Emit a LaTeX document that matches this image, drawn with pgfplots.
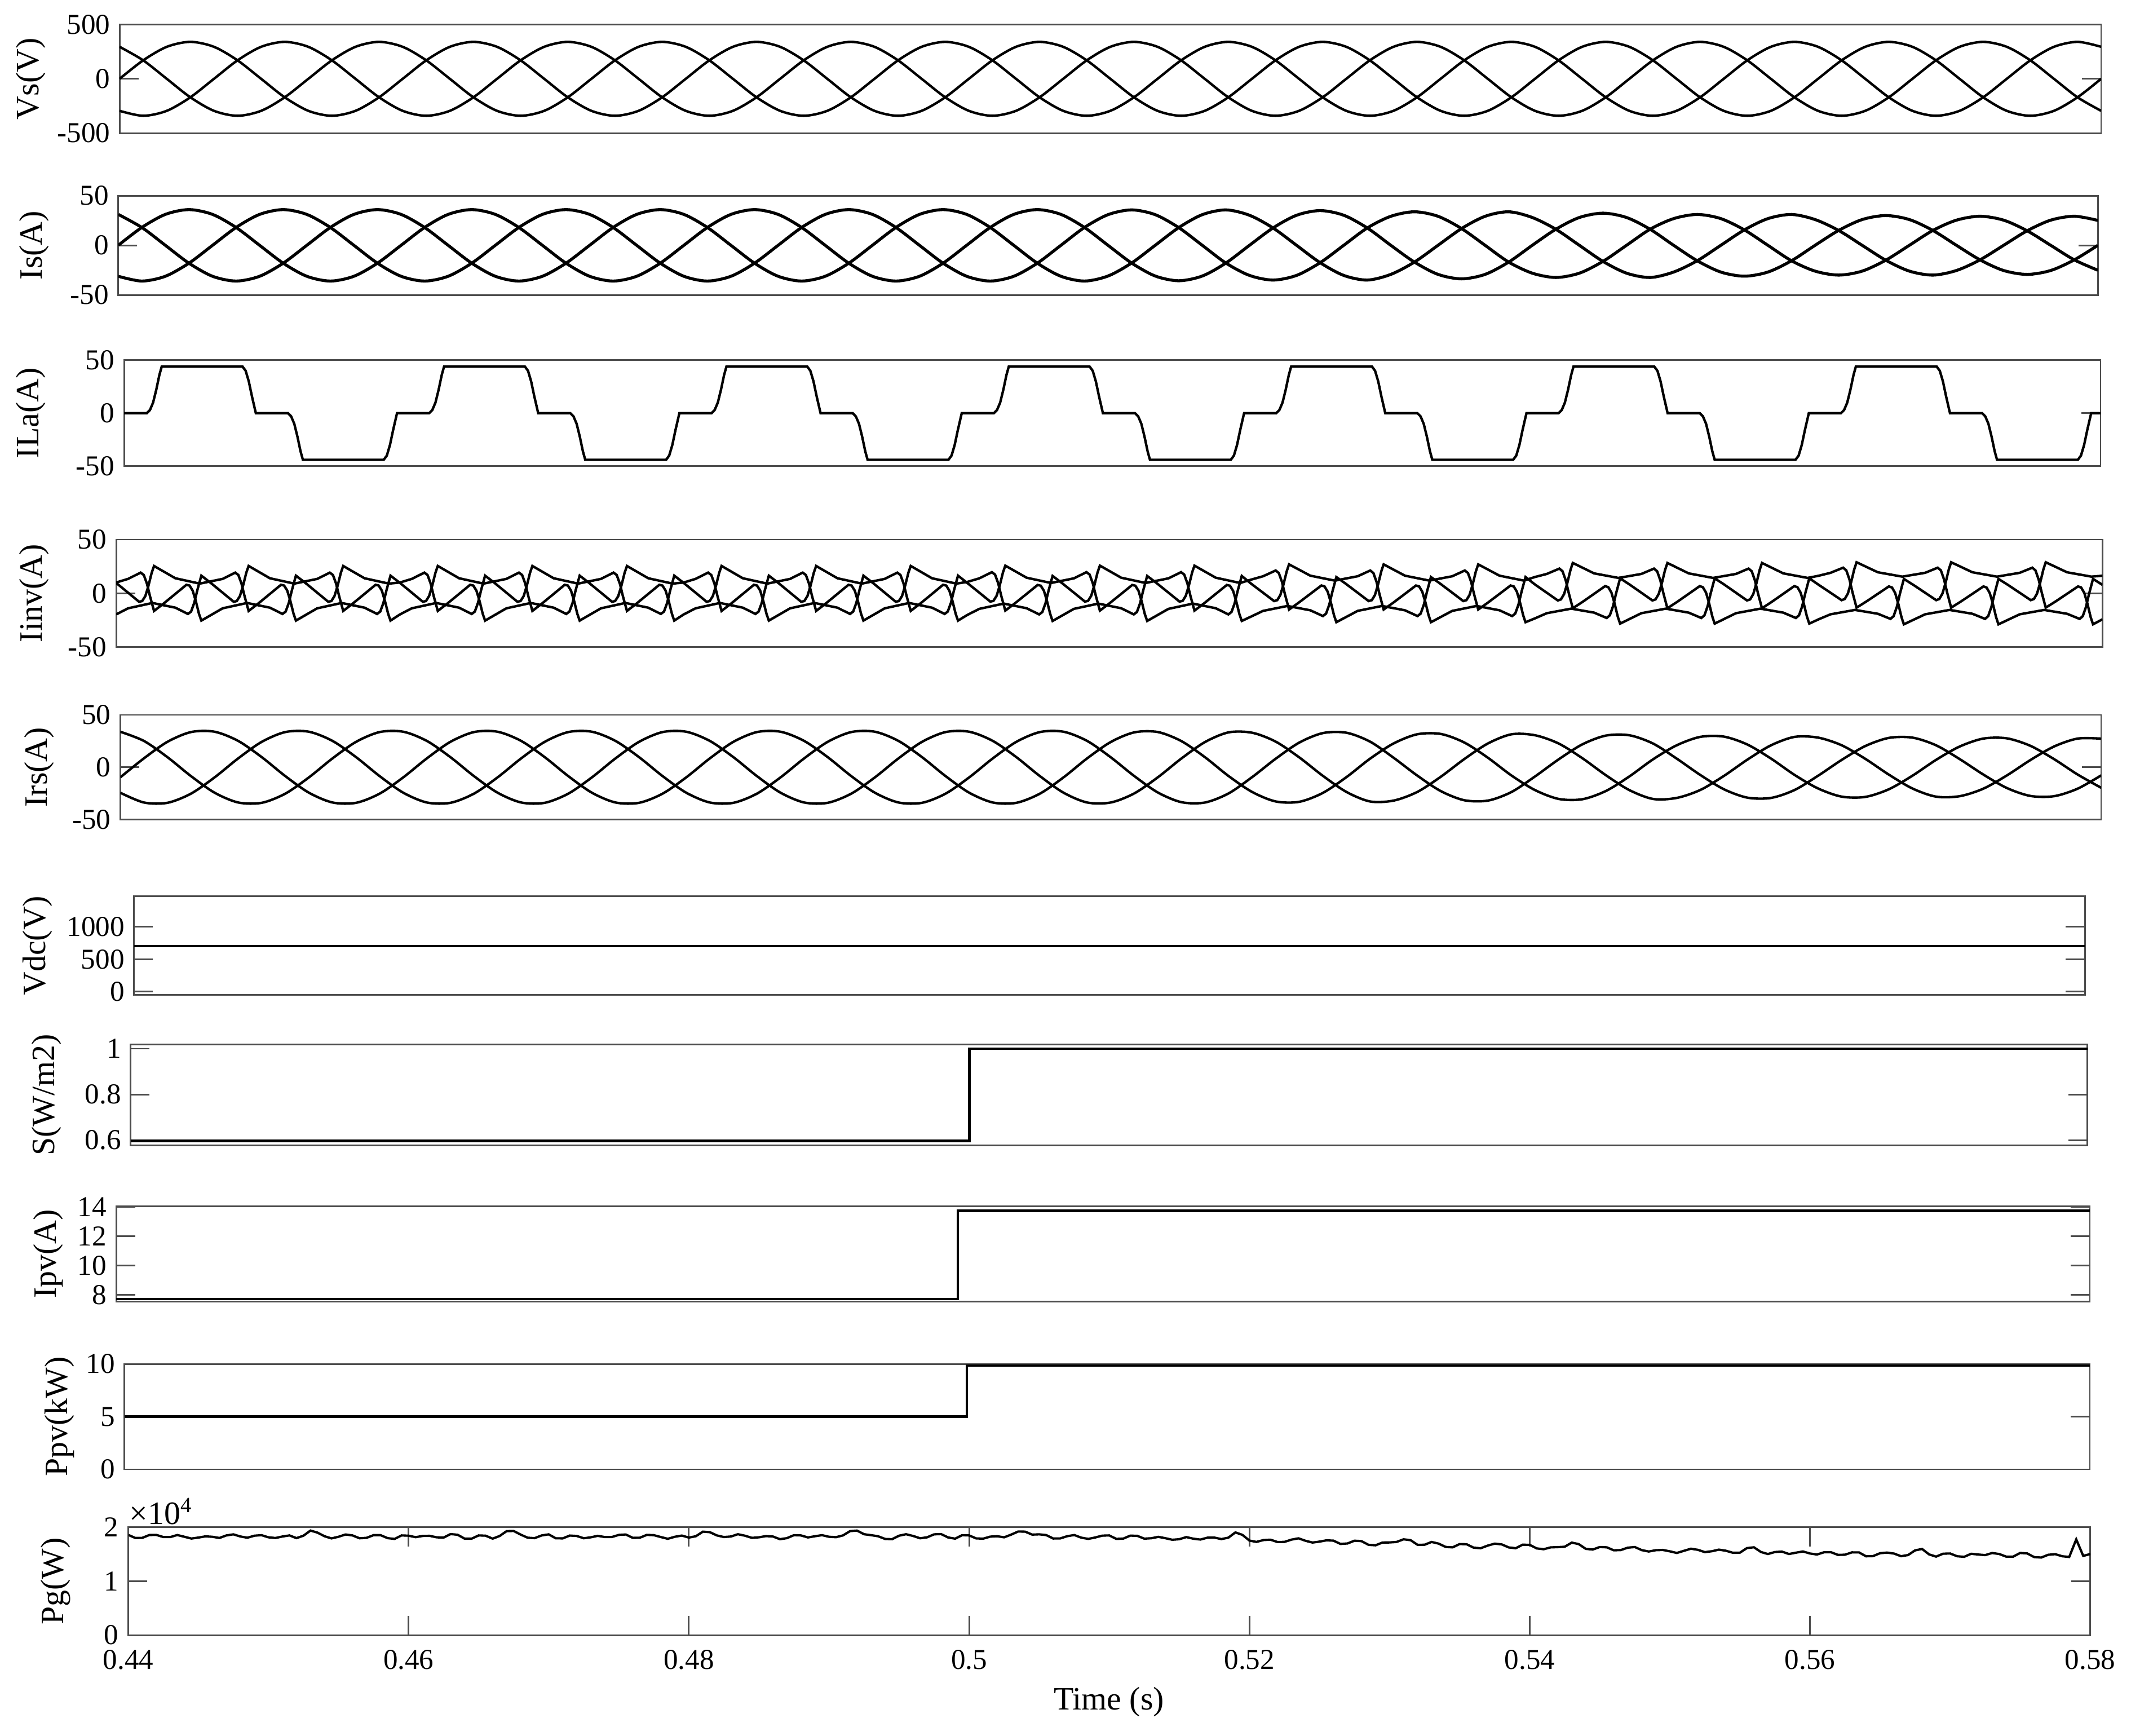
\documentclass[border=0pt]{standalone}
\usepackage{fontspec}
\setmainfont{Liberation Serif}
\usepackage{pgfplots}
\usepackage{pgfplotstable}
\pgfplotsset{compat=1.18}

\pgfplotsset{
 panel/.style={
  scale only axis, anchor=south west,
  axis line style={black!70,line width=0.6pt},
  tick style={black!70,line width=0.6pt},
  major tick length=7pt,
  tick align=inside,
  xtick=\empty,
  ytick pos=both, yticklabel pos=left,
  tick label style={font=\fontsize{10.6}{12}\selectfont},
  /pgf/number format/assume math mode=true,
  /pgf/number format/1000 sep={},
  cycle list={{black,mark=none,line width=0.9pt}},
  every axis plot/.append style={black,line width=0.9pt,mark=none},
 },
 deg/.style={xmin=0,xmax=2520},
 tim/.style={xmin=0.44,xmax=0.58},
}

% electrical angle (deg, 0 = t 0.44 s, 50 Hz) ; three phases a b c
\pgfplotstableread{
x a b c
0 0 294.4 -294.4
30 170 170 -340
60 294.4 0 -294.4
90 340 -170 -170
120 294.4 -294.4 0
150 170 -340 170
180 0 -294.4 294.4
210 -170 -170 340
240 -294.4 0 294.4
270 -340 170 170
300 -294.4 294.4 0
330 -170 340 -170
360 0 294.4 -294.4
390 170 170 -340
420 294.4 0 -294.4
450 340 -170 -170
480 294.4 -294.4 0
510 170 -340 170
540 0 -294.4 294.4
570 -170 -170 340
600 -294.4 0 294.4
630 -340 170 170
660 -294.4 294.4 0
690 -170 340 -170
720 0 294.4 -294.4
750 170 170 -340
780 294.4 0 -294.4
810 340 -170 -170
840 294.4 -294.4 0
870 170 -340 170
900 0 -294.4 294.4
930 -170 -170 340
960 -294.4 0 294.4
990 -340 170 170
1020 -294.4 294.4 0
1050 -170 340 -170
1080 0 294.4 -294.4
1110 170 170 -340
1140 294.4 0 -294.4
1170 340 -170 -170
1200 294.4 -294.4 0
1230 170 -340 170
1260 0 -294.4 294.4
1290 -170 -170 340
1320 -294.4 0 294.4
1350 -340 170 170
1380 -294.4 294.4 0
1410 -170 340 -170
1440 0 294.4 -294.4
1470 170 170 -340
1500 294.4 0 -294.4
1530 340 -170 -170
1560 294.4 -294.4 0
1590 170 -340 170
1620 0 -294.4 294.4
1650 -170 -170 340
1680 -294.4 0 294.4
1710 -340 170 170
1740 -294.4 294.4 0
1770 -170 340 -170
1800 0 294.4 -294.4
1830 170 170 -340
1860 294.4 0 -294.4
1890 340 -170 -170
1920 294.4 -294.4 0
1950 170 -340 170
1980 0 -294.4 294.4
2010 -170 -170 340
2040 -294.4 0 294.4
2070 -340 170 170
2100 -294.4 294.4 0
2130 -170 340 -170
2160 0 294.4 -294.4
2190 170 170 -340
2220 294.4 0 -294.4
2250 340 -170 -170
2280 294.4 -294.4 0
2310 170 -340 170
2340 0 -294.4 294.4
2370 -170 -170 340
2400 -294.4 0 294.4
2430 -340 170 170
2460 -294.4 294.4 0
2490 -170 340 -170
2520 0 294.4 -294.4
}\vstab

\pgfplotstableread{
x a b c
0 0 31.18 -31.18
30 18 18 -36
60 31.18 0 -31.18
90 36 -18 -18
120 31.18 -31.18 0
150 18 -36 18
180 0 -31.18 31.18
210 -18 -18 36
240 -31.18 0 31.18
270 -36 18 18
300 -31.18 31.18 0
330 -18 36 -18
360 0 31.18 -31.18
390 18 18 -36
420 31.18 0 -31.18
450 36 -18 -18
480 31.18 -31.18 0
510 18 -36 18
540 0 -31.18 31.18
570 -18 -18 36
600 -31.18 0 31.18
630 -36 18 18
660 -31.18 31.18 0
690 -18 36 -18
720 0 31.18 -31.18
750 18 18 -36
780 31.18 0 -31.18
810 36 -18 -18
840 31.18 -31.18 0
870 18 -36 18
900 0 -31.18 31.18
930 -18 -18 36
960 -31.18 0 31.18
990 -36 18 18
1020 -31.18 31.18 0
1050 -18 36 -18
1080 0 31.18 -31.18
1110 18 18 -36
1140 31.18 0 -31.18
1170 36 -18 -18
1200 31.18 -31.18 0
1230 18 -36 18
1260 0 -30.92 30.92
1290 -17.85 -17.85 35.7
1320 -30.92 0 30.92
1350 -35.7 17.85 17.85
1380 -30.92 30.92 0
1410 -17.85 35.7 -17.85
1440 0 30.31 -30.31
1470 17.5 17.5 -35
1500 30.31 0 -30.31
1530 35 -17.5 -17.5
1560 30.31 -30.31 0
1590 17.5 -35 17.5
1620 0 -29.27 29.27
1650 -16.9 -16.9 33.8
1680 -29.27 0 29.27
1710 -33.8 16.9 16.9
1740 -29.27 29.27 0
1770 -16.9 33.8 -16.9
1800 0 28.06 -28.06
1830 16.2 16.2 -32.4
1860 28.06 0 -28.06
1890 32.4 -16.2 -16.2
1920 28.06 -28.06 0
1950 16.2 -32.4 16.2
1980 0 -26.93 26.93
2010 -15.55 -15.55 31.1
2040 -26.93 0 26.93
2070 -31.1 15.55 15.55
2100 -26.93 26.93 0
2130 -15.55 31.1 -15.55
2160 0 25.98 -25.98
2190 15 15 -30
2220 25.98 0 -25.98
2250 30 -15 -15
2280 25.98 -25.98 0
2310 15 -30 15
2340 0 -25.37 25.37
2370 -14.65 -14.65 29.3
2400 -25.37 0 25.37
2430 -29.3 14.65 14.65
2460 -25.37 25.37 0
2490 -14.65 29.3 -14.65
2520 0 25.11 -25.11
}\istab

\pgfplotstableread{
x a b c
0 -9.65 33.96 -24.31
30 8.47 25.18 -33.65
60 24.31 9.65 -33.96
90 33.65 -8.47 -25.18
120 33.96 -24.31 -9.65
150 25.18 -33.65 8.47
180 9.65 -33.96 24.31
210 -8.47 -25.18 33.65
240 -24.31 -9.65 33.96
270 -33.65 8.47 25.18
300 -33.96 24.31 9.65
330 -25.18 33.65 -8.47
360 -9.65 33.96 -24.31
390 8.47 25.18 -33.65
420 24.31 9.65 -33.96
450 33.65 -8.47 -25.18
480 33.96 -24.31 -9.65
510 25.18 -33.65 8.47
540 9.65 -33.96 24.31
570 -8.47 -25.18 33.65
600 -24.31 -9.65 33.96
630 -33.65 8.47 25.18
660 -33.96 24.31 9.65
690 -25.18 33.65 -8.47
720 -9.65 33.96 -24.31
750 8.47 25.18 -33.65
780 24.31 9.65 -33.96
810 33.65 -8.47 -25.18
840 33.96 -24.31 -9.65
870 25.18 -33.65 8.47
900 9.65 -33.96 24.31
930 -8.47 -25.18 33.65
960 -24.31 -9.65 33.96
990 -33.65 8.47 25.18
1020 -33.96 24.31 9.65
1050 -25.18 33.65 -8.47
1080 -9.65 33.96 -24.31
1110 8.47 25.18 -33.65
1140 24.31 9.65 -33.96
1170 33.65 -8.47 -25.18
1200 33.96 -24.31 -9.65
1230 25.18 -33.65 8.47
1260 9.56 -33.67 24.11
1290 -8.39 -24.96 33.36
1320 -24.11 -9.56 33.67
1350 -33.36 8.39 24.96
1380 -33.67 24.11 9.56
1410 -24.96 33.36 -8.39
1440 -9.37 32.99 -23.62
1470 8.22 24.46 -32.68
1500 23.62 9.37 -32.99
1530 32.68 -8.22 -24.46
1560 32.99 -23.62 -9.37
1590 24.46 -32.68 8.22
1620 9.04 -31.83 22.79
1650 -7.93 -23.59 31.53
1680 -22.79 -9.04 31.83
1710 -31.53 7.93 23.59
1740 -31.83 22.79 9.04
1770 -23.59 31.53 -7.93
1800 -8.68 30.56 -21.88
1830 7.62 22.66 -30.28
1860 21.88 8.68 -30.56
1890 30.28 -7.62 -22.66
1920 30.56 -21.88 -8.68
1950 22.66 -30.28 7.62
1980 8.32 -29.30 20.98
2010 -7.31 -21.72 29.03
2040 -20.98 -8.32 29.30
2070 -29.03 7.31 21.72
2100 -29.30 20.98 8.32
2130 -21.72 29.03 -7.31
2160 -8.05 28.33 -20.29
2190 7.06 21.00 -28.07
2220 20.29 8.05 -28.33
2250 28.07 -7.06 -21.00
2280 28.33 -20.29 -8.05
2310 21.00 -28.07 7.06
2340 7.85 -27.65 19.80
2370 -6.89 -20.50 27.40
2400 -19.80 -7.85 27.65
2430 -27.40 6.89 20.50
2460 -27.65 19.80 7.85
2490 -20.50 27.40 -6.89
2520 -7.77 27.36 -19.59
}\irstab

\begin{document}
\begin{tikzpicture}
\useasboundingbox (0,0) rectangle (784pt,-638.5pt);

% ---------- Vs
\begin{axis}[panel,deg,at={(44pt,-49pt)},width=729pt,height=40pt,
  ymin=-500,ymax=500,ytick={-500,0,500}]
\addplot[black,smooth] table[x=x,y=a]{\vstab};
\addplot[black,smooth] table[x=x,y=b]{\vstab};
\addplot[black,smooth] table[x=x,y=c]{\vstab};
\end{axis}

% ---------- Is
\begin{axis}[panel,deg,at={(43.5pt,-108.5pt)},width=728.3pt,height=36.5pt,
  ymin=-50,ymax=50,ytick={-50,0,50}]
\addplot[black,smooth,line width=1.1pt] table[x=x,y=a]{\istab};
\addplot[black,smooth,line width=1.1pt] table[x=x,y=b]{\istab};
\addplot[black,smooth,line width=1.1pt] table[x=x,y=c]{\istab};
\end{axis}

% ---------- ILa
\begin{axis}[panel,deg,at={(45.65pt,-171.5pt)},width=727.15pt,height=39pt,
  ymin=-50,ymax=50,ytick={-50,0,50}]
\addplot[black] coordinates {(0,0)
(29,0)(33,3)(37,10)(41,22)(45,36)(48,44)(151,44)(155,40)(159,30)(163,16)(168,0)(209,0)(213,-3)(217,-10)(221,-22)(225,-36)(228,-44)(331,-44)(335,-40)(339,-30)(343,-16)(348,0)
(389,0)(393,3)(397,10)(401,22)(405,36)(408,44)(511,44)(515,40)(519,30)(523,16)(528,0)(569,0)(573,-3)(577,-10)(581,-22)(585,-36)(588,-44)(691,-44)(695,-40)(699,-30)(703,-16)(708,0)
(749,0)(753,3)(757,10)(761,22)(765,36)(768,44)(871,44)(875,40)(879,30)(883,16)(888,0)(929,0)(933,-3)(937,-10)(941,-22)(945,-36)(948,-44)(1051,-44)(1055,-40)(1059,-30)(1063,-16)(1068,0)
(1109,0)(1113,3)(1117,10)(1121,22)(1125,36)(1128,44)(1231,44)(1235,40)(1239,30)(1243,16)(1248,0)(1289,0)(1293,-3)(1297,-10)(1301,-22)(1305,-36)(1308,-44)(1411,-44)(1415,-40)(1419,-30)(1423,-16)(1428,0)
(1469,0)(1473,3)(1477,10)(1481,22)(1485,36)(1488,44)(1591,44)(1595,40)(1599,30)(1603,16)(1608,0)(1649,0)(1653,-3)(1657,-10)(1661,-22)(1665,-36)(1668,-44)(1771,-44)(1775,-40)(1779,-30)(1783,-16)(1788,0)
(1829,0)(1833,3)(1837,10)(1841,22)(1845,36)(1848,44)(1951,44)(1955,40)(1959,30)(1963,16)(1968,0)(2009,0)(2013,-3)(2017,-10)(2021,-22)(2025,-36)(2028,-44)(2131,-44)(2135,-40)(2139,-30)(2143,-16)(2148,0)
(2189,0)(2193,3)(2197,10)(2201,22)(2205,36)(2208,44)(2311,44)(2315,40)(2319,30)(2323,16)(2328,0)(2369,0)(2373,-3)(2377,-10)(2381,-22)(2385,-36)(2388,-44)(2491,-44)(2495,-40)(2499,-30)(2503,-16)(2508,0)
(2520,0)};
\end{axis}

% ---------- Iinv
\begin{axis}[panel,deg,at={(42.75pt,-238pt)},width=730.75pt,height=39.5pt,
  ymin=-50,ymax=50,ytick={-50,0,50}]
\addplot[black] coordinates {
(0,9.65)(15,0.61)(29,-7.88)(33,-7.23)(37,-2.54)(41,7.21)(45,19.03)(48,25.45)(75,14.0)(106,9.0)(135,13.39)(151,19.25)(155,17.04)(159,8.94)(163,-3.06)(168,-16.43)(180,-9.65)(195,-0.61)(209,7.88)(213,7.23)(217,2.54)(221,-7.21)(225,-19.03)(228,-25.45)(255,-14.0)(286,-9.0)(315,-13.39)(331,-19.25)(335,-17.04)(339,-8.94)(343,3.06)(348,16.43)
(360,9.65)(375,0.61)(389,-7.88)(393,-7.23)(397,-2.54)(401,7.21)(405,19.03)(408,25.45)(435,14.0)(466,9.0)(495,13.39)(511,19.25)(515,17.04)(519,8.94)(523,-3.06)(528,-16.43)(540,-9.65)(555,-0.61)(569,7.88)(573,7.23)(577,2.54)(581,-7.21)(585,-19.03)(588,-25.45)(615,-14.0)(646,-9.0)(675,-13.39)(691,-19.25)(695,-17.04)(699,-8.94)(703,3.06)(708,16.43)
(720,9.65)(735,0.61)(749,-7.88)(753,-7.23)(757,-2.54)(761,7.21)(765,19.03)(768,25.45)(795,14.0)(826,9.0)(855,13.39)(871,19.25)(875,17.04)(879,8.94)(883,-3.06)(888,-16.43)(900,-9.65)(915,-0.61)(929,7.88)(933,7.23)(937,2.54)(941,-7.21)(945,-19.03)(948,-25.45)(975,-14.0)(1006,-9.0)(1035,-13.39)(1051,-19.25)(1055,-17.04)(1059,-8.94)(1063,3.06)(1068,16.43)
(1080,9.48)(1095,0.60)(1109,-7.74)(1113,-7.06)(1117,-2.33)(1121,7.46)(1125,19.32)(1128,25.77)(1155,14.51)(1186,9.6)(1215,13.91)(1231,19.68)(1235,17.43)(1239,9.30)(1243,-2.73)(1248,-16.15)(1260,-9.48)(1275,-0.60)(1289,7.74)(1293,7.06)(1297,2.33)(1301,-7.46)(1305,-19.32)(1308,-25.77)(1335,-14.51)(1366,-9.6)(1395,-13.91)(1411,-19.68)(1415,-17.43)(1419,-9.30)(1423,2.73)(1428,16.15)
(1440,8.87)(1455,0.56)(1469,-7.25)(1473,-6.42)(1477,-1.54)(1481,8.39)(1485,20.39)(1488,26.94)(1515,16.40)(1546,11.8)(1575,15.84)(1591,21.23)(1595,18.87)(1599,10.62)(1603,-1.54)(1608,-15.12)(1620,-8.87)(1635,-0.56)(1649,7.25)(1653,6.42)(1657,1.54)(1661,-8.39)(1665,-20.39)(1668,-26.94)(1695,-16.40)(1726,-11.8)(1755,-15.84)(1771,-21.23)(1775,-18.87)(1779,-10.62)(1783,1.54)(1788,15.12)
(1800,8.19)(1815,0.52)(1829,-6.68)(1833,-5.68)(1837,-0.64)(1841,9.45)(1845,21.60)(1848,28.26)(1875,18.54)(1906,14.3)(1935,18.02)(1951,23.0)(1955,20.51)(1959,12.13)(1963,-0.17)(1968,-13.94)(1980,-8.19)(1995,-0.52)(2009,6.68)(2013,5.68)(2017,0.64)(2021,-9.45)(2025,-21.60)(2028,-28.26)(2055,-18.54)(2086,-14.3)(2115,-18.02)(2131,-23.0)(2135,-20.51)(2139,-12.13)(2143,0.17)(2148,13.94)
(2160,7.85)(2175,0.50)(2189,-6.41)(2193,-5.33)(2197,-0.21)(2201,9.96)(2205,22.18)(2208,28.90)(2235,19.57)(2266,15.5)(2295,19.07)(2311,23.85)(2315,21.30)(2319,12.85)(2323,0.48)(2328,-13.38)(2340,-7.85)(2355,-0.50)(2369,6.41)(2373,5.33)(2377,0.21)(2381,-9.96)(2385,-22.18)(2388,-28.90)(2415,-19.57)(2446,-15.5)(2475,-19.07)(2491,-23.85)(2495,-21.30)(2499,-12.85)(2503,-0.48)(2508,13.38)
(2520,7.85)};
\addplot[black] coordinates {
(0,-19.69)(15,-14.0)(46,-9.0)(75,-13.39)(91,-19.25)(95,-17.04)(99,-8.94)(103,3.06)(108,16.43)(120,9.65)(135,0.61)(149,-7.88)(153,-7.23)(157,-2.54)(161,7.21)(165,19.03)(168,25.45)(195,14.0)(226,9.0)(255,13.39)(271,19.25)(275,17.04)(279,8.94)(283,-3.06)(288,-16.43)(300,-9.65)(315,-0.61)(329,7.88)(333,7.23)(337,2.54)(341,-7.21)(345,-19.03)(348,-25.45)
(360,-19.69)(375,-14.0)(406,-9.0)(435,-13.39)(451,-19.25)(455,-17.04)(459,-8.94)(463,3.06)(468,16.43)(480,9.65)(495,0.61)(509,-7.88)(513,-7.23)(517,-2.54)(521,7.21)(525,19.03)(528,25.45)(555,14.0)(586,9.0)(615,13.39)(631,19.25)(635,17.04)(639,8.94)(643,-3.06)(648,-16.43)(660,-9.65)(675,-0.61)(689,7.88)(693,7.23)(697,2.54)(701,-7.21)(705,-19.03)(708,-25.45)
(720,-19.69)(735,-14.0)(766,-9.0)(795,-13.39)(811,-19.25)(815,-17.04)(819,-8.94)(823,3.06)(828,16.43)(840,9.65)(855,0.61)(869,-7.88)(873,-7.23)(877,-2.54)(881,7.21)(885,19.03)(888,25.45)(915,14.0)(946,9.0)(975,13.39)(991,19.25)(995,17.04)(999,8.94)(1003,-3.06)(1008,-16.43)(1020,-9.65)(1035,-0.61)(1049,7.88)(1053,7.23)(1057,2.54)(1061,-7.21)(1065,-19.03)(1068,-25.45)
(1080,-20.10)(1095,-14.51)(1126,-9.6)(1155,-13.91)(1171,-19.68)(1175,-17.43)(1179,-9.30)(1183,2.73)(1188,16.15)(1200,9.48)(1215,0.60)(1229,-7.74)(1233,-7.06)(1237,-2.33)(1241,7.46)(1245,19.32)(1248,25.77)(1275,14.51)(1306,9.6)(1335,13.91)(1351,19.68)(1355,17.43)(1359,9.30)(1363,-2.73)(1368,-16.15)(1380,-9.48)(1395,-0.60)(1409,7.74)(1413,7.06)(1417,2.33)(1421,-7.46)(1425,-19.32)(1428,-25.77)
(1440,-21.63)(1455,-16.40)(1486,-11.8)(1515,-15.84)(1531,-21.23)(1535,-18.87)(1539,-10.62)(1543,1.54)(1548,15.12)(1560,8.87)(1575,0.56)(1589,-7.25)(1593,-6.42)(1597,-1.54)(1601,8.39)(1605,20.39)(1608,26.94)(1635,16.40)(1666,11.8)(1695,15.84)(1711,21.23)(1715,18.87)(1719,10.62)(1723,-1.54)(1728,-15.12)(1740,-8.87)(1755,-0.56)(1769,7.25)(1773,6.42)(1777,1.54)(1781,-8.39)(1785,-20.39)(1788,-26.94)
(1800,-23.37)(1815,-18.54)(1846,-14.3)(1875,-18.02)(1891,-23.0)(1895,-20.51)(1899,-12.13)(1903,0.17)(1908,13.94)(1920,8.19)(1935,0.52)(1949,-6.68)(1953,-5.68)(1957,-0.64)(1961,9.45)(1965,21.60)(1968,28.26)(1995,18.54)(2026,14.3)(2055,18.02)(2071,23.0)(2075,20.51)(2079,12.13)(2083,-0.17)(2088,-13.94)(2100,-8.19)(2115,-0.52)(2129,6.68)(2133,5.68)(2137,0.64)(2141,-9.45)(2145,-21.60)(2148,-28.26)
(2160,-24.20)(2175,-19.57)(2206,-15.5)(2235,-19.07)(2251,-23.85)(2255,-21.30)(2259,-12.85)(2263,-0.48)(2268,13.38)(2280,7.85)(2295,0.50)(2309,-6.41)(2313,-5.33)(2317,-0.21)(2321,9.96)(2325,22.18)(2328,28.90)(2355,19.57)(2386,15.5)(2415,19.07)(2431,23.85)(2435,21.30)(2439,12.85)(2443,0.48)(2448,-13.38)(2460,-7.85)(2475,-0.50)(2489,6.41)(2493,5.33)(2497,0.21)(2501,-9.96)(2505,-22.18)(2508,-28.90)
(2520,-24.20)};
\addplot[black] coordinates {
(0,10.04)(15,13.39)(31,19.25)(35,17.04)(39,8.94)(43,-3.06)(48,-16.43)(60,-9.65)(75,-0.61)(89,7.88)(93,7.23)(97,2.54)(101,-7.21)(105,-19.03)(108,-25.45)(135,-14.0)(166,-9.0)(195,-13.39)(211,-19.25)(215,-17.04)(219,-8.94)(223,3.06)(228,16.43)(240,9.65)(255,0.61)(269,-7.88)(273,-7.23)(277,-2.54)(281,7.21)(285,19.03)(288,25.45)(315,14.0)(346,9.0)
(360,10.04)(375,13.39)(391,19.25)(395,17.04)(399,8.94)(403,-3.06)(408,-16.43)(420,-9.65)(435,-0.61)(449,7.88)(453,7.23)(457,2.54)(461,-7.21)(465,-19.03)(468,-25.45)(495,-14.0)(526,-9.0)(555,-13.39)(571,-19.25)(575,-17.04)(579,-8.94)(583,3.06)(588,16.43)(600,9.65)(615,0.61)(629,-7.88)(633,-7.23)(637,-2.54)(641,7.21)(645,19.03)(648,25.45)(675,14.0)(706,9.0)
(720,10.04)(735,13.39)(751,19.25)(755,17.04)(759,8.94)(763,-3.06)(768,-16.43)(780,-9.65)(795,-0.61)(809,7.88)(813,7.23)(817,2.54)(821,-7.21)(825,-19.03)(828,-25.45)(855,-14.0)(886,-9.0)(915,-13.39)(931,-19.25)(935,-17.04)(939,-8.94)(943,3.06)(948,16.43)(960,9.65)(975,0.61)(989,-7.88)(993,-7.23)(997,-2.54)(1001,7.21)(1005,19.03)(1008,25.45)(1035,14.0)(1066,9.0)
(1080,10.62)(1095,13.91)(1111,19.68)(1115,17.43)(1119,9.30)(1123,-2.73)(1128,-16.15)(1140,-9.48)(1155,-0.60)(1169,7.74)(1173,7.06)(1177,2.33)(1181,-7.46)(1185,-19.32)(1188,-25.77)(1215,-14.51)(1246,-9.6)(1275,-13.91)(1291,-19.68)(1295,-17.43)(1299,-9.30)(1303,2.73)(1308,16.15)(1320,9.48)(1335,0.60)(1349,-7.74)(1353,-7.06)(1357,-2.33)(1361,7.46)(1365,19.32)(1368,25.77)(1395,14.51)(1426,9.6)
(1440,12.76)(1455,15.84)(1471,21.23)(1475,18.87)(1479,10.62)(1483,-1.54)(1488,-15.12)(1500,-8.87)(1515,-0.56)(1529,7.25)(1533,6.42)(1537,1.54)(1541,-8.39)(1545,-20.39)(1548,-26.94)(1575,-16.40)(1606,-11.8)(1635,-15.84)(1651,-21.23)(1655,-18.87)(1659,-10.62)(1663,1.54)(1668,15.12)(1680,8.87)(1695,0.56)(1709,-7.25)(1713,-6.42)(1717,-1.54)(1721,8.39)(1725,20.39)(1728,26.94)(1755,16.40)(1786,11.8)
(1800,15.18)(1815,18.02)(1831,23.0)(1835,20.51)(1839,12.13)(1843,-0.17)(1848,-13.94)(1860,-8.19)(1875,-0.52)(1889,6.68)(1893,5.68)(1897,0.64)(1901,-9.45)(1905,-21.60)(1908,-28.26)(1935,-18.54)(1966,-14.3)(1995,-18.02)(2011,-23.0)(2015,-20.51)(2019,-12.13)(2023,0.17)(2028,13.94)(2040,8.19)(2055,0.52)(2069,-6.68)(2073,-5.68)(2077,-0.64)(2081,9.45)(2085,21.60)(2088,28.26)(2115,18.54)(2146,14.3)
(2160,16.35)(2175,19.07)(2191,23.85)(2195,21.30)(2199,12.85)(2203,0.48)(2208,-13.38)(2220,-7.85)(2235,-0.50)(2249,6.41)(2253,5.33)(2257,0.21)(2261,-9.96)(2265,-22.18)(2268,-28.90)(2295,-19.57)(2326,-15.5)(2355,-19.07)(2371,-23.85)(2375,-21.30)(2379,-12.85)(2383,-0.48)(2388,13.38)(2400,7.85)(2415,0.50)(2429,-6.41)(2433,-5.33)(2437,-0.21)(2441,9.96)(2445,22.18)(2448,28.90)(2475,19.57)(2506,15.5)
(2520,16.35)};
\end{axis}

% ---------- Irs
\begin{axis}[panel,deg,at={(44.25pt,-301.5pt)},width=728.75pt,height=38.5pt,
  ymin=-50,ymax=50,ytick={-50,0,50}]
\addplot[black,smooth] table[x=x,y=a]{\irstab};
\addplot[black,smooth] table[x=x,y=b]{\irstab};
\addplot[black,smooth] table[x=x,y=c]{\irstab};
\end{axis}

% ---------- Vdc
\begin{axis}[panel,tim,at={(49.3pt,-366pt)},width=717.7pt,height=36.3pt,
  ymin=-50,ymax=1470,ytick={0,500,1000}]
\addplot[black] coordinates {(0.44,700) (0.58,700)};
\end{axis}

% ---------- S
\begin{axis}[panel,tim,at={(48.05pt,-421.3pt)},width=719.95pt,height=37.05pt,
  ymin=0.578,ymax=1.018,ytick={0.6,0.8,1}]
\addplot[black] coordinates {(0.44,0.597) (0.5,0.597) (0.5,1.0) (0.58,1.0)};
\end{axis}

% ---------- Ipv
\begin{axis}[panel,tim,at={(42.75pt,-478.75pt)},width=726.1pt,height=35pt,
  ymin=7.55,ymax=14.03,ytick={8,10,12,14}]
\addplot[black] coordinates {(0.44,7.72) (0.4997,7.72) (0.4997,13.72) (0.58,13.72)};
\end{axis}

% ---------- Ppv
\begin{axis}[panel,tim,at={(45.8pt,-540.5pt)},width=723.05pt,height=38.75pt,
  ymin=0,ymax=10,ytick={0,5,10}]
\addplot[black] coordinates {(0.44,5) (0.5,5) (0.5,9.85) (0.58,9.85)};
\end{axis}

% ---------- Pg
\begin{axis}[panel,tim,at={(47.2pt,-601.5pt)},width=721.8pt,height=39.65pt,
  ymin=0,ymax=20000,ytick={0,10000,20000},yticklabels={0,1,2},scaled y ticks=false,
  xtick={0.44,0.46,0.48,0.5,0.52,0.54,0.56,0.58},
  xticklabels={0.44,0.46,0.48,0.5,0.52,0.54,0.56,0.58},
  xtick pos=both, xticklabel pos=lower,
  xticklabel style={yshift=-2pt}]
\addplot[black,line width=0.85pt] coordinates {
(0.4400,18600)(0.4405,18025)(0.4410,18050)(0.4415,18575)(0.4420,18600)(0.4425,18200)(0.4430,18200)(0.4435,18575)(0.4440,18250)(0.4445,17925)(0.4450,18100)(0.4455,18325)(0.4460,18250)(0.4465,18025)(0.4470,18500)(0.4475,18700)(0.4480,18300)(0.4485,18075)(0.4490,18450)(0.4495,18550)
(0.4500,18150)(0.4505,18025)(0.4510,18300)(0.4515,18500)(0.4520,18000)(0.4525,18450)(0.4530,19400)(0.4535,19025)(0.4540,18350)(0.4545,17950)(0.4550,18250)(0.4555,18675)(0.4560,18500)(0.4565,17975)(0.4570,18050)(0.4575,18550)(0.4580,18550)(0.4585,18000)(0.4590,17850)(0.4595,18500)
(0.4600,18450)(0.4605,18175)(0.4610,18400)(0.4615,18425)(0.4620,18150)(0.4625,18100)(0.4630,18750)(0.4635,18625)(0.4640,17900)(0.4645,17900)(0.4650,18500)(0.4655,18450)(0.4660,17900)(0.4665,18400)(0.4670,19300)(0.4675,19325)(0.4680,18650)(0.4685,18075)(0.4690,18000)(0.4695,18500)
(0.4700,18700)(0.4705,17975)(0.4710,17950)(0.4715,18475)(0.4720,18400)(0.4725,17975)(0.4730,18150)(0.4735,18425)(0.4740,18200)(0.4745,18200)(0.4750,18600)(0.4755,18675)(0.4760,18050)(0.4765,18075)(0.4770,18600)(0.4775,18550)(0.4780,18200)(0.4785,17875)(0.4790,18250)(0.4795,18475)
(0.4800,18100)(0.4805,18350)(0.4810,19200)(0.4815,19100)(0.4820,18500)(0.4825,18200)(0.4830,18300)(0.4835,18725)(0.4840,18450)(0.4845,18050)(0.4850,18150)(0.4855,18375)(0.4860,18300)(0.4865,17800)(0.4870,18000)(0.4875,18550)(0.4880,18500)(0.4885,18125)(0.4890,18350)(0.4895,18550)
(0.4900,18250)(0.4905,18175)(0.4910,18500)(0.4915,19300)(0.4920,19400)(0.4925,18725)(0.4930,18550)(0.4935,18350)(0.4940,17850)(0.4945,17800)(0.4950,18450)(0.4955,18725)(0.4960,18400)(0.4965,17975)(0.4970,18150)(0.4975,18700)(0.4980,18750)(0.4985,18125)(0.4990,17900)(0.4995,18550)
(0.5000,18500)(0.5005,17950)(0.5010,17900)(0.5015,18275)(0.5020,18350)(0.5025,18150)(0.5030,18650)(0.5035,19225)(0.5040,19200)(0.5045,18650)(0.5050,18700)(0.5055,18565)(0.5060,17930)(0.5065,17945)(0.5070,18360)(0.5075,18575)(0.5080,18090)(0.5085,17855)(0.5090,18120)(0.5095,18460)
(0.5100,18500)(0.5105,17855)(0.5110,17910)(0.5115,18465)(0.5120,18420)(0.5125,17900)(0.5130,17980)(0.5135,18235)(0.5140,17990)(0.5145,17695)(0.5150,17800)(0.5155,18195)(0.5160,17890)(0.5165,17735)(0.5170,18080)(0.5175,18100)(0.5180,17820)(0.5185,18090)(0.5190,19060)(0.5195,18605)
(0.5200,17550)(0.5205,17295)(0.5210,17640)(0.5215,17710)(0.5220,17280)(0.5225,17300)(0.5230,17720)(0.5235,17965)(0.5240,17510)(0.5245,17180)(0.5250,17350)(0.5255,17590)(0.5260,17530)(0.5265,16920)(0.5270,17010)(0.5275,17525)(0.5280,17440)(0.5285,16755)(0.5290,16670)(0.5295,17185)
(0.5300,17200)(0.5305,17290)(0.5310,17780)(0.5315,17620)(0.5320,16760)(0.5325,16775)(0.5330,17290)(0.5335,16980)(0.5340,16370)(0.5345,16285)(0.5350,16900)(0.5355,16865)(0.5360,16230)(0.5365,16120)(0.5370,16610)(0.5375,16975)(0.5380,16840)(0.5385,16280)(0.5390,16120)(0.5395,16785)
(0.5400,16750)(0.5405,16095)(0.5410,15940)(0.5415,16285)(0.5420,16330)(0.5425,16400)(0.5430,17170)(0.5435,16890)(0.5440,16010)(0.5445,15880)(0.5450,16350)(0.5455,16295)(0.5460,15740)(0.5465,15785)(0.5470,16230)(0.5475,16350)(0.5480,15770)(0.5485,15515)(0.5490,15760)(0.5495,15805)
(0.5500,15550)(0.5505,15245)(0.5510,15640)(0.5515,16035)(0.5520,15830)(0.5525,15400)(0.5530,15570)(0.5535,15865)(0.5540,15660)(0.5545,15280)(0.5550,15300)(0.5555,16150)(0.5560,16300)(0.5565,15425)(0.5570,15050)(0.5575,15425)(0.5580,15500)(0.5585,15050)(0.5590,15300)(0.5595,15525)
(0.5600,15150)(0.5605,14960)(0.5610,15370)(0.5615,15380)(0.5620,14890)(0.5625,14925)(0.5630,15360)(0.5635,15345)(0.5640,14630)(0.5645,14665)(0.5650,15200)(0.5655,15315)(0.5660,15130)(0.5665,14645)(0.5670,14860)(0.5675,15725)(0.5680,15990)(0.5685,14980)(0.5690,14570)(0.5695,15110)
(0.5700,15150)(0.5705,14640)(0.5710,14530)(0.5715,15095)(0.5720,14960)(0.5725,14850)(0.5730,15240)(0.5735,15055)(0.5740,14570)(0.5745,14560)(0.5750,15250)(0.5755,15165)(0.5760,14480)(0.5765,14395)(0.5770,14910)(0.5775,15025)(0.5780,14640)(0.5785,14500)(0.5790,17770)(0.5795,14700)
(0.5800,15050)};
\end{axis}

% ---------- labels
\begin{scope}[every node/.style={font=\fontsize{12}{14}\selectfont,inner sep=0pt}]
\node[rotate=90] at (11.25pt,-29pt) {Vs(V)};
\node[rotate=90] at (12.5pt,-90.25pt) {Is(A)};
\node[rotate=90] at (11.25pt,-152pt) {ILa(A)};
\node[rotate=90] at (12.5pt,-218.25pt) {Iinv(A)};
\node[rotate=90] at (14.5pt,-282.25pt) {Irs(A)};
\node[rotate=90] at (13.9pt,-347.85pt) {Vdc(V)};
\node[rotate=90] at (17.2pt,-402.8pt) {S(W/m2)};
\node[rotate=90] at (17.85pt,-461.25pt) {Ipv(A)};
\node[rotate=90] at (21.8pt,-521.1pt) {Ppv(kW)};
\node[rotate=90] at (20.5pt,-581.7pt) {Pg(W)};
\node at (408pt,-626pt) {Time (s)};
\node[anchor=south west,font=\fontsize{12}{14}\selectfont] at (47.5pt,-561pt) {×10\textsuperscript{4}};
\end{scope}
\end{tikzpicture}
\end{document}
